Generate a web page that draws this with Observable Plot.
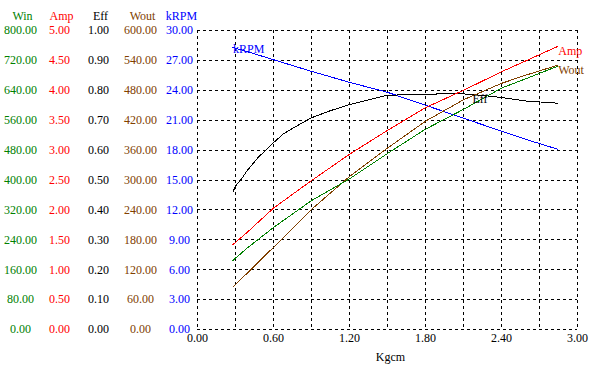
<!DOCTYPE html>
<html>
<head>
<meta charset="utf-8">
<script src="https://cdn.jsdelivr.net/npm/d3@7"></script>
<script src="https://cdn.jsdelivr.net/npm/@observablehq/plot@0.6"></script>
<style>
  html, body { margin: 0; padding: 0; background: #fff; }
</style>
</head>
<body>
<div id="chart"></div>
<script>
// ---- data ----
const torque = [0.28, 0.4, 0.6, 0.9, 1.2, 1.5, 1.8, 2.1, 2.4, 2.6, 2.84];
const ampVals  = [1.42, 1.64, 2.03, 2.49, 2.93, 3.33, 3.71, 4.00, 4.31, 4.50, 4.73];
const winVals  = [185, 220, 273, 345, 403, 471, 536, 589, 646, 672, 704];
const woutVals = [85, 115, 165, 241, 307, 364, 418, 461, 494, 511, 530];
const rpmVals  = [28.3, 27.85, 27.07, 25.9, 24.8, 23.8, 22.5, 21.2, 19.9, 19.05, 18.1];

const effTorque = [0.28, 0.30, 0.35, 0.39, 0.48, 0.54, 0.6, 0.68, 0.76, 0.9, 1.05, 1.2, 1.35, 1.48, 1.65, 1.8, 1.95, 2.1, 2.25, 2.4, 2.6, 2.84];
const effVals   = [0.46, 0.48, 0.505, 0.53, 0.576, 0.60, 0.625, 0.655, 0.675, 0.708, 0.732, 0.752, 0.768, 0.782, 0.786, 0.787, 0.788, 0.788, 0.783, 0.776, 0.764, 0.757];

// axis maxima (each left axis spans 0..max)
const winMax = 800, ampMax = 5, effMax = 1, woutMax = 600, rpmMax = 30;

// tick labels
const winTicks  = [0, 80, 160, 240, 320, 400, 480, 560, 640, 720, 800];
const ampTicks  = [0, 0.5, 1, 1.5, 2, 2.5, 3, 3.5, 4, 4.5, 5];
const effTicks  = [0, 0.1, 0.2, 0.3, 0.4, 0.5, 0.6, 0.7, 0.8, 0.9, 1];
const woutTicks = [0, 60, 120, 180, 240, 300, 360, 420, 480, 540, 600];
const rpmTicks  = [0, 3, 6, 9, 12, 15, 18, 21, 24, 27, 30];
const xTicks    = [0, 0.6, 1.2, 1.8, 2.4, 3.0];
const xGrid     = [0, 0.3, 0.6, 0.9, 1.2, 1.5, 1.8, 2.1, 2.4, 2.7, 3.0];
const yGrid     = [0, 0.1, 0.2, 0.3, 0.4, 0.5, 0.6, 0.7, 0.8, 0.9, 1.0];

const C = { win: "#008000", amp: "#ff0000", eff: "#000000", wout: "#804000", rpm: "#0000ff" };

const main = torque.map((t, i) => ({t, amp: ampVals[i], win: winVals[i], wout: woutVals[i], rpm: rpmVals[i]}));
const eff = effTorque.map((t, i) => ({t, eff: effVals[i]}));

const axisCols = [
  {name: "Win",  ticks: winTicks,  max: winMax,  color: C.win,  dx: -177},
  {name: "Amp",  ticks: ampTicks,  max: ampMax,  color: C.amp,  dx: -138},
  {name: "Eff",  ticks: effTicks,  max: effMax,  color: C.eff,  dx: -99},
  {name: "Wout", ticks: woutTicks, max: woutMax, color: C.wout, dx: -57},
  {name: "kRPM", ticks: rpmTicks,  max: rpmMax,  color: C.rpm,  dx: -18}
];

const marks = [
  Plot.ruleX(xGrid, {x: d => d, stroke: "black", strokeDasharray: "3,3", shapeRendering: "crispEdges"}),
  Plot.ruleY(yGrid, {y: d => d, stroke: "black", strokeDasharray: "3,3", shapeRendering: "crispEdges"}),
];

for (const a of axisCols) {
  marks.push(Plot.text(a.ticks, {
    y: d => d / a.max, text: d => d.toFixed(2), frameAnchor: "left",
    dx: a.dx, textAnchor: "middle", fill: a.color
  }));
  marks.push(Plot.text([a.name], {
    frameAnchor: "top-left", dx: a.dx + 2, dy: -19, textAnchor: "middle", fill: a.color
  }));
}

const lineOpts = {strokeWidth: 1, shapeRendering: "crispEdges"};

marks.push(
  Plot.text(xTicks, {x: d => d, text: d => d.toFixed(2), frameAnchor: "bottom", dy: 12, fill: "black"}),
  Plot.text(["Kgcm"], {frameAnchor: "bottom", dx: 3, dy: 31, fill: "black"}),

  Plot.line(main, {x: "t", y: d => d.rpm / rpmMax, stroke: C.rpm, ...lineOpts}),
  Plot.line(eff,  {x: "t", y: d => d.eff / effMax, stroke: C.eff, ...lineOpts}),
  Plot.line(main, {x: "t", y: d => d.wout / woutMax, stroke: C.wout, ...lineOpts}),
  Plot.line(main, {x: "t", y: d => d.win / winMax, stroke: C.win, ...lineOpts}),
  Plot.line(main, {x: "t", y: d => d.amp / ampMax, stroke: C.amp, ...lineOpts}),

  Plot.text(main, Plot.selectFirst({x: "t", y: d => d.rpm / rpmMax, text: () => "kRPM",
    textAnchor: "start", lineAnchor: "top", dy: -3, fill: C.rpm})),
  Plot.text(main, Plot.selectLast({x: "t", y: d => d.amp / ampMax, text: () => "Amp",
    textAnchor: "start", lineAnchor: "top", dx: 1, fill: C.amp})),
  Plot.text(main, Plot.selectLast({x: "t", y: d => d.wout / woutMax, text: () => "Wout",
    textAnchor: "start", lineAnchor: "top", dx: 1, fill: C.wout})),
  Plot.text(eff.filter(d => d.t === 2.1), {x: "t", y: d => d.eff / effMax, text: () => "Eff",
    textAnchor: "start", lineAnchor: "top", dx: 9, dy: 1, fill: C.eff})
);

const chart = Plot.plot({
  width: 596,
  height: 369,
  marginLeft: 197,
  marginRight: 19,
  marginTop: 30,
  marginBottom: 40,
  x: {domain: [0, 3], axis: null},
  y: {domain: [0, 1], axis: null},
  style: {fontFamily: "'Liberation Serif', 'DejaVu Serif', serif", fontSize: "12px", background: "white", overflow: "visible"},
  marks
});
document.getElementById("chart").appendChild(chart);
</script>
</body>
</html>
